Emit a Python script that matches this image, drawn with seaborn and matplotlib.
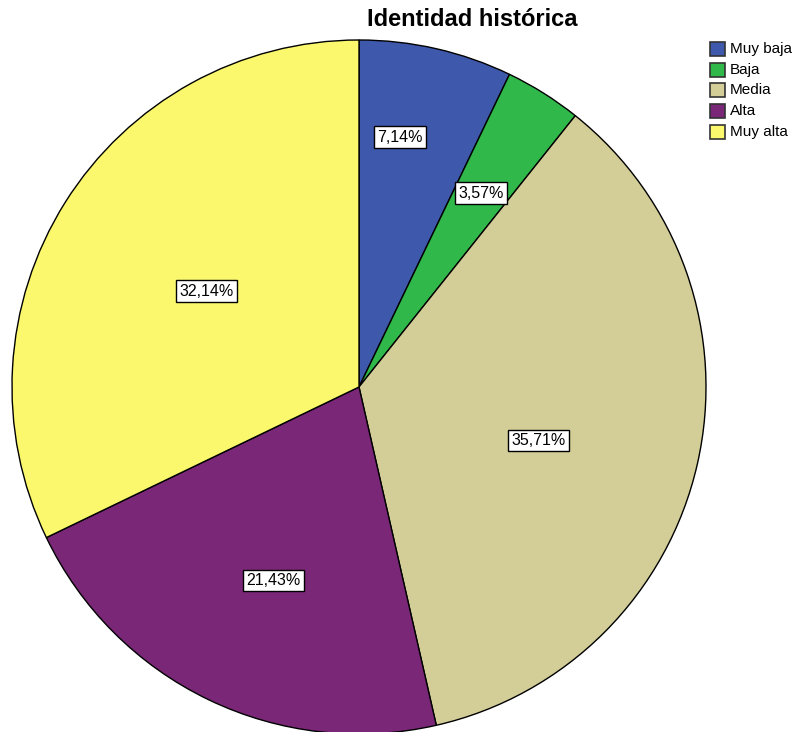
import matplotlib
matplotlib.use('Agg')
import numpy as np
import matplotlib.pyplot as plt
import seaborn as sns
from matplotlib.patches import Rectangle

sns.set_theme(style='white')
plt.rcParams['font.family'] = ['Liberation Sans', 'DejaVu Sans']
plt.rcParams['text.color'] = 'black'

categories = ['Muy baja', 'Baja', 'Media', 'Alta', 'Muy alta']
percentages = [7.14, 3.57, 35.71, 21.43, 32.14]
pct_labels = ['7,14%', '3,57%', '35,71%', '21,43%', '32,14%']
colors = ['#3E58AC', '#30B84A', '#D3CE97', '#7A2778', '#FBF86E']

# label placement: distance from centre (fraction of radius), angle shift (deg)
label_radius = [0.73, 0.66, 0.54, 0.61, 0.52]
label_shift = [3.5, 0.0, -3.8, 1.8, 0.0]

W, H = 796, 732
fig = plt.figure(figsize=(W / 100, H / 100), dpi=100)
cx, cy, r = 359, 387, 347
ax = fig.add_axes([(cx - r) / W, (H - cy - r) / H, 2 * r / W, 2 * r / H])

wedges, _ = ax.pie(percentages, colors=colors, startangle=90, counterclock=False,
                   radius=1, wedgeprops={'edgecolor': 'black', 'linewidth': 1.0})
ax.set_xlim(-1, 1)
ax.set_ylim(-1, 1)
ax.set_aspect('equal')
ax.axis('off')

for w, lab, rr, sh in zip(wedges, pct_labels, label_radius, label_shift):
    ang = np.deg2rad((w.theta1 + w.theta2) / 2 + sh)
    ax.text(rr * np.cos(ang), rr * np.sin(ang), lab, ha='center', va='center',
            fontsize=11.5, color='black',
            bbox=dict(boxstyle='square,pad=0.2', facecolor='white', edgecolor='black', linewidth=1.0))

fig.text(472 / W, 1 - 20 / H, 'Identidad histórica', ha='center', va='center',
         fontsize=17, fontweight='bold', color='black')

# legend drawn by hand, SPSS style
for i, (c, name) in enumerate(zip(colors, categories)):
    yc = 49 + 20.7 * i
    fig.patches.append(Rectangle((710 / W, 1 - (yc + 7) / H), 15 / W, 14 / H,
                                 transform=fig.transFigure, facecolor=c,
                                 edgecolor='#333333', linewidth=1.2))
    fig.text(730 / W, 1 - yc / H, name, ha='left', va='center', fontsize=11, color='black')

fig.savefig('out.png', dpi=100)
